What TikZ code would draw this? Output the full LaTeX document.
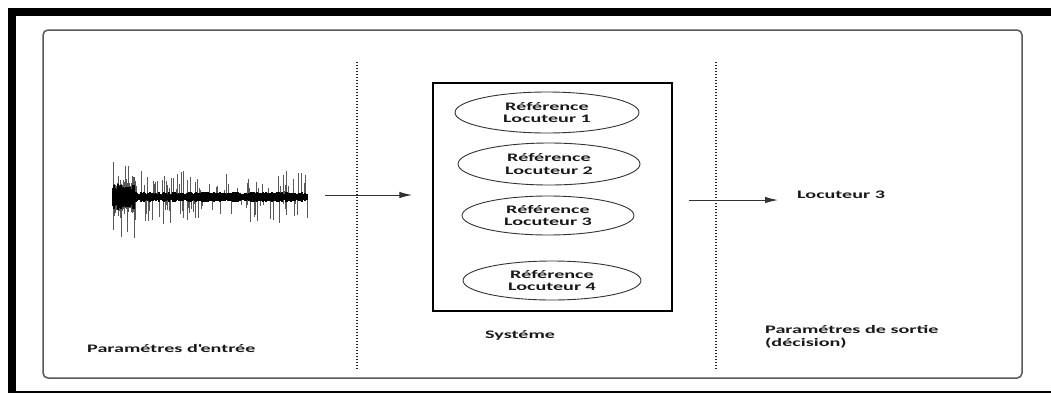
\documentclass[tikz,border=0pt]{standalone}
\usepackage{fontspec}
\setmainfont{Carlito}
\newfontfamily\widesf{Carlito}[FakeStretch=1.75]
\usetikzlibrary{arrows.meta,shapes.geometric}

\tikzset{
  txt/.style={inner sep=0pt, text=black!90, font=\widesf\bfseries\fontsize{11.5}{13}\selectfont},
  spk/.style={ellipse, draw=black!80, line width=0.9pt, inner sep=0pt, align=center,
              text=black!90, font=\widesf\bfseries\fontsize{11.5}{12.5}\selectfont},
  sysbox/.style={draw=black, line width=1.5pt, inner sep=0pt},
  sep/.style={black!85, line width=1.4pt, dash pattern=on 1.2pt off 1.8pt},
  flow/.style={draw=black!80, line width=1pt, -{Latex[length=13pt,width=6.5pt]}},
}

\begin{document}
\begin{tikzpicture}[x=1pt,y=-1pt]
  \useasboundingbox (0,0) rectangle (1051,394);
  \fill[white] (0,0) rectangle (1051,394);

  % outer black frame
  \fill[black] (8,8) rectangle (1051,16);
  \fill[black] (8,8) rectangle (16,393);
  \fill[black] (8,391) rectangle (1051,393);

  % inner rounded panel
  \draw[black!65, line width=1.5pt, rounded corners=5pt] (43,30) rectangle (1022,378);

  % dotted separators
  \draw[sep] (357,62) -- (357,370);
  \draw[sep] (716,62) -- (716,370);

  % speech waveform: scattered spikes over a dense dark core
  \pgfmathsetseed{42}
  \foreach \i in {0,...,194}{
    \pgfmathsetmacro{\xx}{113+\i}
    \pgfmathsetmacro{\core}{2.5+2.5*rnd+((\i<22)?(5*rnd+4):0)}
    \pgfmathsetmacro{\up}{\core+((rnd<0.33)?(3+19*rnd):0)+((\i<22)?(8*rnd):0)}
    \pgfmathsetmacro{\dn}{\core+((rnd<0.33)?(3+21*rnd):0)+((\i<22)?(8*rnd):0)}
    \draw[black!65, line width=0.8pt] (\xx,197-\up) -- (\xx,197+\dn);
    \draw[black, line width=1.2pt] (\xx,197-\core) -- (\xx,197+\core);
  }
  \node[inner sep=0pt, minimum width=195pt, minimum height=56pt] (wave) at (210.5,195) {};

  % system with speaker references
  \node[sysbox, minimum width=239pt, minimum height=228pt] (sys) at (552.5,197) {};
  \node[spk, minimum width=184pt, minimum height=41pt] (r1) at (547,112.5) {Référence\\Locuteur 1};
  \node[spk, minimum width=182pt, minimum height=42pt] (r2) at (549,164) {Référence\\Locuteur 2};
  \node[spk, minimum width=172pt, minimum height=39pt] (r3) at (548,215.5) {Référence\\Locuteur 3};
  \node[spk, minimum width=178pt, minimum height=39pt] (r4) at (552,280.5) {Référence\\Locuteur 4};

  % decision
  \node[txt, anchor=west] (out) at (797,195) {Locuteur 3};

  % flow arrows
  \coordinate (a1) at (wave.east);
  \draw[flow, shorten <=17pt, shorten >=20pt] (a1) -- (a1 -| sys.west);
  \coordinate (a2) at ([yshift=-3pt]sys.east);
  \draw[flow, shorten <=16pt, shorten >=19pt] (a2) -- (a2 -| out.west);

  % column captions
  \node[txt, anchor=west] (cin) at (87,349) {Paramétres d\textquotesingle entrée};
  \node[txt, anchor=west] (csys) at (485,335) {Systéme};
  \node[txt, anchor=north west, align=left] (cout) at (765,325) {Paramétres de sortie\\(décision)};
\end{tikzpicture}
\end{document}
